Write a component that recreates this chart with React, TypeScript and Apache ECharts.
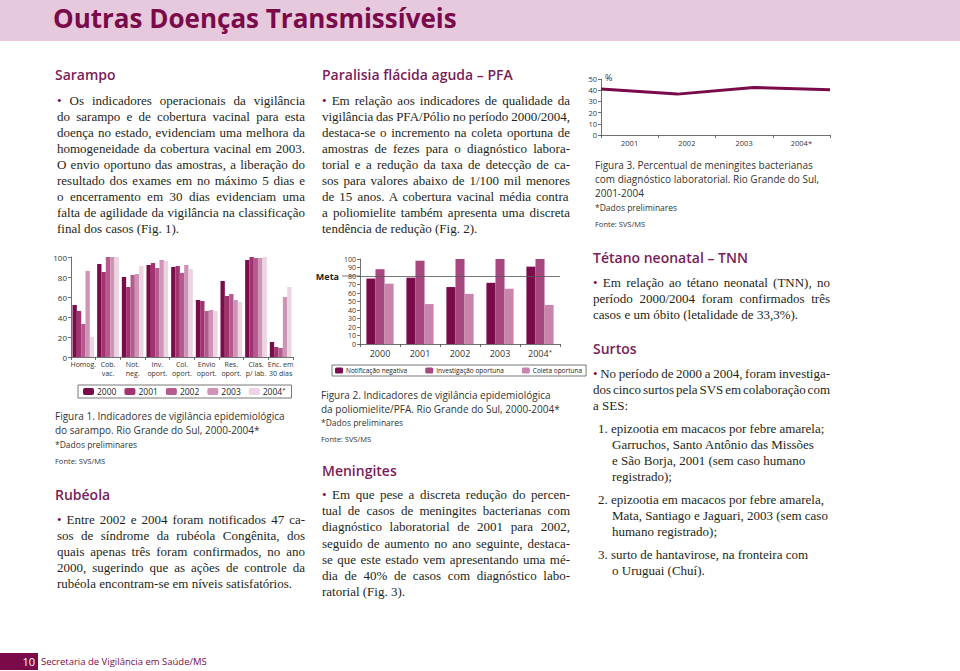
import React, { useEffect, useRef } from "react";
import * as echarts from "echarts";

// ---------- DATA ----------
const fig1Categories = ["Homog.", "Cob.\nvac.", "Not.\nneg.", "Inv.\noport.", "Col.\noport.", "Envio\noport.", "Res.\noport.", "Clas.\np/ lab.", "Enc. em\n30 dias"];
const fig1Years = ["2000", "2001", "2002", "2003", "2004*"];
const fig1Y2000 = [52, 93, 80, 92, 90, 57, 76, 97, 15];
const fig1Y2001 = [46, 85, 70, 94, 91, 56, 61, 100, 10];
const fig1Y2002 = [33, 100, 82, 89, 84, 46, 63, 99, 9];
const fig1Y2003 = [86, 100, 83, 97, 92, 47, 57, 99, 60];
const fig1Y2004 = [20, 100, 91, 96, 88, 46, 55, 100, 70];
const fig1Ticks = [0, 20, 40, 60, 80, 100];

const fig2Years = ["2000", "2001", "2002", "2003", "2004*"];
const fig2Series = ["Notificação negativa", "Investigação oportuna", "Coleta oportuna"];
const fig2Notificacao = [77, 78, 67, 72, 91];
const fig2Investigacao = [88, 98, 100, 100, 100];
const fig2Coleta = [71, 47, 59, 65, 46];
const fig2Meta = 80;

const fig3Years = ["2001", "2002", "2003", "2004*"];
const fig3Percent = [41, 36.5, 42.5, 40.5];

// ---------- STYLE ----------
const SERIF = '"Liberation Serif", "Times New Roman", serif';
const SANS = '"Open Sans", "Noto Sans", sans-serif';
const DARK = "#7a0a4a";
const HEAD = "#7a1d59";
const TXT = "#231f20";
const AX = "#4d4d4d";
const c1 = ["#7b0c4b", "#a2336f", "#b55a8e", "#cf93b6", "#ecd4e3"];
const c2 = ["#7b0c4b", "#a8467f", "#c884ad"];
const BODY = 13;

let mctx: CanvasRenderingContext2D | null = null;
function measure(text: string, font: string): number {
  if (!mctx) mctx = document.createElement("canvas").getContext("2d");
  mctx!.font = font;
  return mctx!.measureText(text).width;
}

function Para(props: { lines: string[]; x: number; y0: number; step: number; width: number; size?: number; justify?: boolean; xs?: number[] }) {
  const { lines, x, y0, step, width, size = BODY, justify = true, xs } = props;
  const font = `${size}px ${SERIF}`;
  return (
    <>
      {lines.map((ln, i) => {
        const last = i === lines.length - 1;
        const w = measure(ln, font);
        const spaces = (ln.match(/ /g) || []).length;
        let ws = 0;
        if (spaces) {
          const d = (width - w) / spaces;
          ws = justify && !last ? d : Math.min(0, d);
        }
        const bullet = ln.startsWith("• ");
        const lx = xs ? xs[i] : x;
        return (
          <div key={i} style={{ position: "absolute", left: lx, top: y0 + i * step - 9, height: 18, lineHeight: "18px", fontFamily: SERIF, fontSize: size, whiteSpace: "pre", wordSpacing: ws, color: TXT }}>
            {bullet ? (<><span style={{ color: DARK }}>•</span>{ln.slice(1)}</>) : ln}
          </div>
        );
      })}
    </>
  );
}

function T(props: { x: number; y: number; size: number; color?: string; weight?: number; family?: string; children: React.ReactNode }) {
  const { x, y, size, color = "#333", weight = 400, family = SANS, children } = props;
  const lh = Math.round(size * 1.4);
  return (
    <div style={{ position: "absolute", left: x, top: y - lh / 2, height: lh, lineHeight: lh + "px", fontSize: size, color, fontWeight: weight, fontFamily: family, whiteSpace: "pre" }}>
      {children}
    </div>
  );
}

const H = (p: { x: number; y: number; children: React.ReactNode }) => (
  <T x={p.x} y={p.y} size={14} color={HEAD} weight={600}>{p.children}</T>
);

export default function App() {
  const ref = useRef<HTMLDivElement>(null);

  useEffect(() => {
    if (!ref.current) return;
    const chart = echarts.init(ref.current, null, { renderer: "svg" });
    const axisLine = { show: true, lineStyle: { color: AX, width: 0.8 } };
    const axisTick = { show: true, length: 3, lineStyle: { color: AX, width: 0.8 } };
    const fig1Data = [fig1Y2000, fig1Y2001, fig1Y2002, fig1Y2003, fig1Y2004];
    const fig2Data = [fig2Notificacao, fig2Investigacao, fig2Coleta];
    const sup = (v: string) => (v.endsWith("*") ? v.slice(0, -1) + "{s|*}" : v);

    const option: any = {
      animation: false,
      textStyle: { fontFamily: SANS },
      grid: [
        { left: 71, top: 257, width: 222, height: 100 },
        { left: 360, top: 259, width: 200, height: 85 },
        { left: 601, top: 79, width: 229, height: 56 },
      ],
      legend: [
        {
          data: fig1Years, left: 78, top: 385, orient: "horizontal",
          itemWidth: 11, itemHeight: 7, itemGap: 8,
          formatter: sup,
          textStyle: { fontSize: 8.5, color: "#222", padding: [0, 0, 0, -2], rich: { s: { fontSize: 6, verticalAlign: "top", color: "#222" } } },
          borderColor: "#555", borderWidth: 0.8, padding: [2, 6, 2, 5],
          selectedMode: false,
        },
        {
          data: fig2Series, left: 332, top: 365, orient: "horizontal",
          itemWidth: 8, itemHeight: 6, itemGap: 18,
          textStyle: { fontSize: 6.5, color: "#222", padding: [0, 0, 0, -2] },
          borderColor: "#555", borderWidth: 0.8, padding: [2, 4, 2, 3],
          selectedMode: false,
        },
      ],
      xAxis: [
        {
          type: "category", gridIndex: 0, data: fig1Categories,
          axisLine, axisTick,
          axisLabel: { interval: 0, fontSize: 7, lineHeight: 9, color: "#333", margin: 3 },
        },
        {
          type: "category", gridIndex: 1, data: fig2Years,
          axisLine, axisTick,
          axisLabel: {
            interval: 0, fontSize: 9, color: "#333", margin: 5,
            formatter: sup,
            rich: { s: { fontSize: 6, verticalAlign: "top", color: "#333" } },
          },
        },
        {
          type: "category", gridIndex: 2, data: fig3Years,
          axisLine, axisTick,
          axisLabel: { interval: 0, fontSize: 7.5, color: "#333", margin: 4 },
        },
        {
          type: "category", gridIndex: 2, data: fig3Years, boundaryGap: false, show: false,
        },
      ],
      yAxis: [
        {
          type: "value", gridIndex: 0, min: fig1Ticks[0], max: fig1Ticks[fig1Ticks.length - 1], interval: 20,
          axisLine, axisTick, splitLine: { show: false },
          axisLabel: { fontSize: 8, color: "#333", margin: 4 },
        },
        {
          type: "value", gridIndex: 1, min: 0, max: 100, interval: 10,
          axisLine, axisTick, splitLine: { show: false },
          axisLabel: {
            fontSize: 7, color: "#333", margin: 4,
            formatter: (v: number) => (v === fig2Meta ? "{m|Meta}" + String(v) : String(v)),
            rich: { m: { fontSize: 9, fontWeight: "bold", color: "#222", padding: [0, 9, 0, 0] } },
          },
        },
        {
          type: "value", gridIndex: 2, min: 0, max: 50, interval: 10,
          axisLine, axisTick, splitLine: { show: false },
          axisLabel: { fontSize: 7.5, color: "#333", margin: 4 },
          name: "%", nameLocation: "end", nameGap: 2,
          nameTextStyle: { fontSize: 9, color: "#333", align: "left", verticalAlign: "middle", padding: [0, 0, 0, 4] },
        },
      ],
      series: [
        ...fig1Years.map((yr, i) => ({
          type: "bar", name: yr, xAxisIndex: 0, yAxisIndex: 0, data: fig1Data[i],
          barGap: "0%", barCategoryGap: "12%", itemStyle: { color: c1[i] },
        })),
        ...fig2Series.map((nm, i) => ({
          type: "bar", name: nm, xAxisIndex: 1, yAxisIndex: 1, data: fig2Data[i],
          barGap: "0%", barCategoryGap: "32%", itemStyle: { color: c2[i] },
          ...(i === 0
            ? {
                markLine: {
                  silent: true, symbol: "none", label: { show: false },
                  lineStyle: { color: "#555", width: 0.8, type: "solid" },
                  data: [{ yAxis: fig2Meta }],
                },
              }
            : {}),
        })),
        {
          type: "line", name: "Meningites", xAxisIndex: 3, yAxisIndex: 2, data: fig3Percent,
          symbol: "none", lineStyle: { color: DARK, width: 3 }, itemStyle: { color: DARK },
        },
      ],
    };
    chart.setOption(option);
    const py = chart.convertToPixel({ yAxisIndex: 1 } as any, fig2Meta) as unknown as number;
    chart.setOption({
      graphic: [
        { type: "line", z: 0, shape: { x1: 342, y1: py, x2: 360, y2: py }, style: { stroke: "#555", lineWidth: 0.8 } },
      ],
    });
    return () => chart.dispose();
  }, []);

  return (
    <div style={{ position: "fixed", left: 0, top: 0, width: 960, height: 671, background: "#fff", overflow: "hidden" }}>
      <div style={{ position: "absolute", left: 0, top: 0, width: 960, height: 41, background: "#e6c9dc" }} />
      <div ref={ref} style={{ position: "absolute", left: 0, top: 0, width: 960, height: 671 }} />
      <div style={{ position: "absolute", left: 53, top: 0, height: 36, lineHeight: "36px", fontFamily: SANS, fontWeight: 700, fontSize: 26, color: DARK, whiteSpace: "pre" }}>
        Outras Doenças Transmissíveis
      </div>

      {/* Column 1 */}
      <H x={55} y={75}>Sarampo</H>
      <Para x={57} y0={101} step={16} width={248} lines={[
        "• Os indicadores operacionais da vigilância",
        "do sarampo e de cobertura vacinal para esta",
        "doença no estado, evidenciam uma melhora da",
        "homogeneidade da cobertura vacinal em 2003.",
        "O envio oportuno das amostras, a liberação do",
        "resultado dos exames em no máximo 5 dias e",
        "o encerramento em 30 dias evidenciam uma",
        "falta de agilidade da vigilância na classificação",
        "final dos casos (Fig. 1).",
      ]} />
      <T x={55} y={416} size={10}>Figura 1. Indicadores de vigilância epidemiológica</T>
      <T x={55} y={430} size={10}>do sarampo. Rio Grande do Sul, 2000-2004*</T>
      <T x={55} y={445} size={8.5}>*Dados preliminares</T>
      <T x={55} y={461} size={7.5}>Fonte: SVS/MS</T>
      <H x={55} y={495}>Rubéola</H>
      <Para x={57} y0={520} step={16} width={248} lines={[
        "• Entre 2002 e 2004 foram notificados 47 ca-",
        "sos de síndrome da rubéola Congênita, dos",
        "quais apenas três foram confirmados, no ano",
        "2000, sugerindo que as ações de controle da",
        "rubéola encontram-se em níveis satisfatórios.",
      ]} />

      {/* Column 2 */}
      <H x={322} y={75}>Paralisia flácida aguda – PFA</H>
      <Para x={322} y0={101} step={16} width={248} lines={[
        "• Em relação aos indicadores de qualidade da",
        "vigilância das PFA/Pólio no período 2000/2004,",
        "destaca-se o incremento na coleta oportuna de",
        "amostras de fezes para o diagnóstico labora-",
        "torial e a redução da taxa de detecção de ca-",
        "sos para valores abaixo de 1/100 mil menores",
        "de 15 anos. A cobertura vacinal média contra",
        "a poliomielite também apresenta uma discreta",
        "tendência de redução (Fig. 2).",
      ]} />
      <T x={321} y={395} size={10}>Figura 2. Indicadores de vigilância epidemiológica</T>
      <T x={321} y={409} size={10}>da poliomielite/PFA. Rio Grande do Sul, 2000-2004*</T>
      <T x={321} y={423} size={8.5}>*Dados preliminares</T>
      <T x={321} y={439} size={7.5}>Fonte: SVS/MS</T>
      <H x={322} y={471}>Meningites</H>
      <Para x={322} y0={495} step={16.2} width={248} lines={[
        "• Em que pese a discreta redução do percen-",
        "tual de casos de meningites bacterianas com",
        "diagnóstico laboratorial de 2001 para 2002,",
        "seguido de aumento no ano seguinte, destaca-",
        "se que este estado vem apresentando uma mé-",
        "dia de 40% de casos com diagnóstico labo-",
        "ratorial (Fig. 3).",
      ]} />

      {/* Column 3 */}
      <T x={595} y={165} size={10}>Figura 3. Percentual de meningites bacterianas</T>
      <T x={595} y={179} size={10}>com diagnóstico laboratorial. Rio Grande do Sul,</T>
      <T x={595} y={193} size={10}>2001-2004</T>
      <T x={595} y={208} size={8.5}>*Dados preliminares</T>
      <T x={595} y={224} size={7.5}>Fonte: SVS/MS</T>
      <H x={593} y={258}>Tétano neonatal – TNN</H>
      <Para x={593} y0={283} step={16} width={237} lines={[
        "• Em relação ao tétano neonatal (TNN), no",
        "período 2000/2004 foram confirmados três",
        "casos e um óbito (letalidade de 33,3%).",
      ]} />
      <H x={593} y={349}>Surtos</H>
      <Para x={593} y0={374} step={16} width={237} lines={[
        "• No período de 2000 a 2004, foram investiga-",
        "dos cinco surtos pela SVS em colaboração com",
        "a SES:",
      ]} />
      <Para x={598} y0={429} step={16} width={240} justify={false} xs={[598, 612, 612, 612]} lines={[
        "1. epizootia em macacos por febre amarela;",
        "Garruchos, Santo Antônio das Missões",
        "e São Borja, 2001 (sem caso humano",
        "registrado);",
      ]} />
      <Para x={598} y0={500} step={16} width={240} justify={false} xs={[598, 612, 612]} lines={[
        "2. epizootia em macacos por febre amarela,",
        "Mata, Santiago e Jaguari, 2003 (sem caso",
        "humano registrado);",
      ]} />
      <Para x={598} y0={555} step={16} width={240} justify={false} xs={[598, 612]} lines={[
        "3. surto de hantavirose, na fronteira com",
        "o Uruguai (Chuí).",
      ]} />

      {/* Footer */}
      <div style={{ position: "absolute", left: 0, top: 653, width: 38, height: 17, background: DARK }} />
      <div style={{ position: "absolute", left: 0, top: 653, width: 35, height: 17, lineHeight: "17px", textAlign: "right", color: "#fff", fontFamily: SANS, fontSize: 11 }}>10</div>
      <div style={{ position: "absolute", left: 41, top: 653, height: 17, lineHeight: "17px", color: DARK, fontFamily: SANS, fontSize: 9.5, whiteSpace: "pre" }}>Secretaria de Vigilância em Saúde/MS</div>
    </div>
  );
}
